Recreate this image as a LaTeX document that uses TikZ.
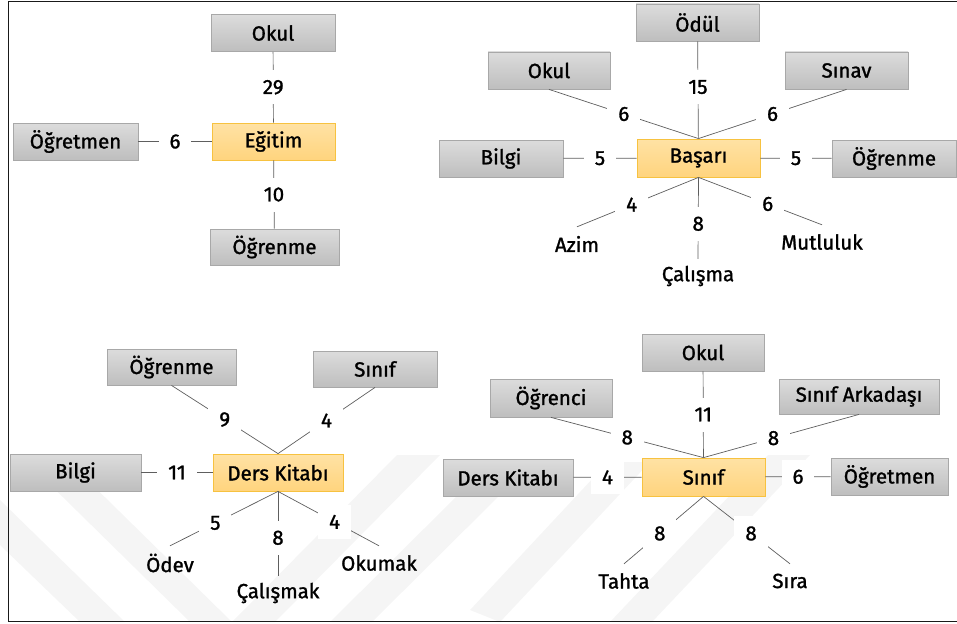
\documentclass[tikz,border=0pt]{standalone}
\usepackage{fontspec}
\setmainfont{Fira Sans}[RawFeature={embolden=1.3}]
\definecolor{linkgray}{HTML}{5E5E5E}
\definecolor{boxedge}{HTML}{A8A8A8}
\definecolor{boxtop}{HTML}{DCDCDC}
\definecolor{boxbot}{HTML}{BEBEBE}
\definecolor{hubedge}{HTML}{F7C240}
\definecolor{hubtop}{HTML}{FFE2A4}
\definecolor{hubbot}{HTML}{FFD47E}
\definecolor{wmark}{HTML}{F5F5F5}
\tikzset{
  every node/.style={font=\fontsize{20.5}{24}\selectfont, text=black},
  termbox/.style={rectangle, draw=boxedge, line width=0.8pt, top color=boxtop, bottom color=boxbot,
    minimum width=124pt, minimum height=37pt, inner sep=0pt},
  hubbox/.style={rectangle, draw=hubedge, line width=0.8pt, top color=hubtop, bottom color=hubbot,
    minimum width=123pt, minimum height=37pt, inner sep=0pt},
  word/.style={inner sep=0pt, minimum height=34pt},
  lbl/.style={fill=white, inner xsep=11pt, inner ysep=0pt, minimum width=30pt, minimum height=34pt},
  link/.style={draw=linkgray, line width=0.7pt},
}
\begin{document}
\begin{tikzpicture}[x=1pt, y=-1pt]
\useasboundingbox (0,0) rectangle (957,623);

% faint background stripes
\fill[wmark] (20,455) -- (62,455) -- (232,622) -- (190,622) -- cycle;
\fill[wmark] (0,500) -- (0,545) -- (80,622) -- (125,622) -- cycle;
\fill[wmark] (232,622) -- (275,622) -- (440,455) -- (397,455) -- cycle;
\fill[wmark] (330,622) -- (372,622) -- (500,495) -- (458,495) -- cycle;
\fill[wmark] (470,610) -- (500,622) -- (650,462) -- (608,462) -- cycle;
\fill[wmark] (610,622) -- (652,622) -- (810,455) -- (768,455) -- cycle;

% frame
\draw[line width=1.8pt, draw=black!90] (957,1.5) -- (8.5,1.5) -- (8.5,621.5) -- (957,621.5);

% ---- Eğitim ----
\node[hubbox] (egitim) at (273.5,141.5) {Eğitim};
\node[termbox] (e-okul) at (273,33) {Okul};
\node[termbox, minimum width=125pt] (e-ogretmen) at (75.5,141.5) {Öğretmen};
\node[termbox, minimum width=129pt, minimum height=36pt] (e-ogrenme) at (274.5,247) {Öğrenme};
\draw[link] (e-okul) -- node[lbl]{29} (egitim);
\draw[link] (e-ogretmen) -- node[lbl]{6} (egitim);
\draw[link] (egitim) -- node[lbl]{10} (e-ogrenme);

% ---- Başarı ----
\node[hubbox, minimum height=38pt] (basari) at (698.5,158) {Başarı};
\node[termbox, minimum width=123pt] (b-odul) at (697.5,22.5) {Ödül};
\node[termbox, minimum width=122pt] (b-okul) at (549,70.5) {Okul};
\node[termbox, minimum width=123pt] (b-sinav) at (846.5,70.5) {Sınav};
\node[termbox] (b-bilgi) at (501,158.5) {Bilgi};
\node[termbox] (b-ogrenme) at (894,158.5) {Öğrenme};
\node[word] (b-azim) at (577,244) {Azim};
\node[word] (b-calisma) at (698,276) {Çalışma};
\node[word] (b-mutluluk) at (822,242) {Mutluluk};
\draw[link] (b-odul) -- node[lbl, pos=0.47]{15} (basari);
\draw[link] (b-okul.south) -- node[lbl]{6} (basari.north);
\draw[link] (b-sinav.south) -- node[lbl]{6} (basari.north);
\draw[link] (b-bilgi) -- node[lbl]{5} (basari);
\draw[link] (basari) -- node[lbl]{5} (b-ogrenme);
\draw[link] (basari.south) -- node[lbl, pos=0.55]{4} (b-azim.north);
\draw[link] (basari.south) -- node[lbl, pos=0.57]{8} (b-calisma.north);
\draw[link] (basari.south) -- node[lbl, pos=0.56]{6} (b-mutluluk.north);

% ---- Ders Kitabı ----
\node[hubbox, minimum width=130pt] (kitap) at (278,472.5) {Ders Kitabı};
\node[termbox, minimum width=129pt, minimum height=36pt] (k-ogrenme) at (171.5,367) {Öğrenme};
\node[termbox, minimum height=36pt] (k-sinif) at (375,369) {Sınıf};
\node[termbox, minimum width=131pt] (k-bilgi) at (75.5,472.5) {Bilgi};
\node[word] (k-odev) at (170,563) {Ödev};
\node[word] (k-calismak) at (278,593) {Çalışmak};
\node[word] (k-okumak) at (379,563) {Okumak};
\draw[link] (k-ogrenme.south) -- node[lbl]{9} (kitap.north);
\draw[link] (k-sinif.south) -- node[lbl]{4} (kitap.north);
\draw[link] (k-bilgi) -- node[lbl]{11} (kitap);
\draw[link] (kitap.south) -- node[lbl, pos=0.58]{5} (k-odev.north);
\draw[link] (kitap.south) -- node[lbl, pos=0.55]{8} (k-calismak.north);
\draw[link] (kitap.south) -- node[lbl, pos=0.56]{4} (k-okumak.north);

% ---- Sınıf ----
\node[hubbox, minimum height=38pt] (sinif) at (703.5,477) {Sınıf};
\node[termbox, minimum width=122pt] (s-okul) at (703,352.5) {Okul};
\node[termbox, minimum width=122pt, minimum height=38pt] (s-ogrenci) at (551,398) {Öğrenci};
\node[termbox, minimum width=160pt, minimum height=35pt] (s-arkadas) at (859,396.5) {Sınıf Arkadaşı};
\node[termbox, minimum width=130pt] (s-kitap) at (508,477.5) {Ders Kitabı};
\node[termbox, minimum width=117pt] (s-ogretmen) at (889.5,476.5) {Öğretmen};
\node[word] (s-tahta) at (624,581) {Tahta};
\node[word] (s-sira) at (790,581) {Sıra};
\draw[link] (s-okul) -- node[lbl]{11} (sinif);
\draw[link] (s-ogrenci.south) -- node[lbl]{8} (sinif.north);
\draw[link] (s-arkadas.south) -- node[lbl, pos=0.55]{8} (sinif.north);
\draw[link] (s-kitap) -- node[lbl]{4} (sinif);
\draw[link] (sinif) -- node[lbl]{6} (s-ogretmen);
\draw[link] (sinif.south) -- node[lbl, pos=0.55]{8} (s-tahta.north);
\draw[link] (sinif.south) -- node[lbl, pos=0.55]{8} (s-sira.north);
\end{tikzpicture}
\end{document}
